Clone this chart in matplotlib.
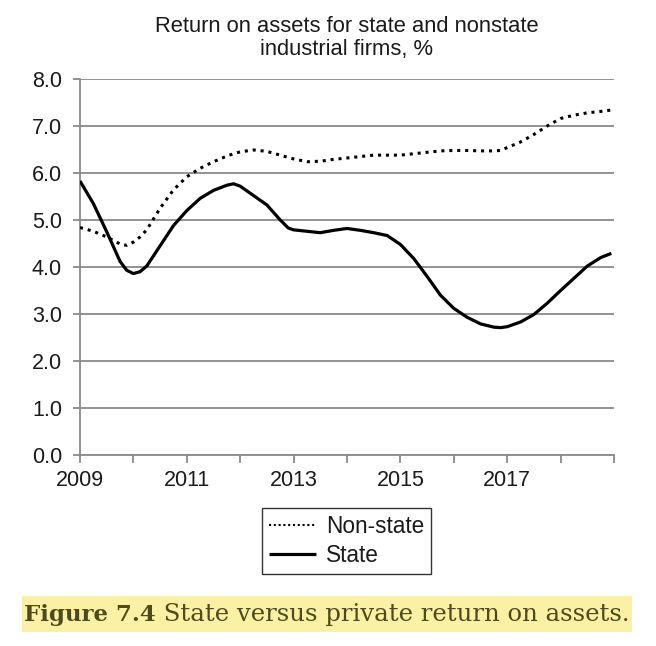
import matplotlib
matplotlib.use("Agg")
import matplotlib.pyplot as plt
from matplotlib.patches import Rectangle

plt.rcParams['font.family'] = ['Liberation Sans', 'DejaVu Sans']

years = [2009.0, 2009.25, 2009.5, 2009.75, 2009.875, 2010.0, 2010.125, 2010.25,
         2010.5, 2010.75, 2011.0, 2011.25, 2011.5, 2011.75, 2011.875, 2012.0,
         2012.25, 2012.5, 2012.75, 2012.9, 2013.0, 2013.25, 2013.5, 2013.75,
         2014.0, 2014.25, 2014.5, 2014.75, 2015.0, 2015.25, 2015.5, 2015.75,
         2016.0, 2016.25, 2016.5, 2016.75, 2016.875, 2017.0, 2017.25, 2017.5,
         2017.75, 2018.0, 2018.25, 2018.5, 2018.75, 2018.95]

state = [5.83, 5.35, 4.75, 4.12, 3.93, 3.86, 3.90, 4.02,
         4.45, 4.88, 5.20, 5.46, 5.63, 5.74, 5.77, 5.72,
         5.52, 5.32, 5.00, 4.83, 4.79, 4.76, 4.73, 4.78,
         4.82, 4.78, 4.73, 4.67, 4.48, 4.18, 3.80, 3.40,
         3.12, 2.93, 2.79, 2.72, 2.71, 2.73, 2.83, 2.99,
         3.23, 3.50, 3.76, 4.02, 4.20, 4.29]

nonstate = [4.84, 4.76, 4.64, 4.49, 4.46, 4.53, 4.64, 4.79,
            5.25, 5.64, 5.92, 6.10, 6.24, 6.36, 6.41, 6.45,
            6.49, 6.46, 6.38, 6.33, 6.30, 6.24, 6.25, 6.29,
            6.32, 6.35, 6.38, 6.38, 6.38, 6.41, 6.44, 6.47,
            6.48, 6.48, 6.47, 6.47, 6.48, 6.54, 6.66, 6.82,
            7.00, 7.16, 7.23, 7.28, 7.31, 7.34]

xticks = list(range(2009, 2020))
xticklabels = ['2009', '', '2011', '', '2013', '', '2015', '', '2017', '', '']
yticks = [0, 1, 2, 3, 4, 5, 6, 7, 8]
yticklabels = ['0.0', '1.0', '2.0', '3.0', '4.0', '5.0', '6.0', '7.0', '8.0']

title = "Return on assets for state and nonstate\nindustrial firms, %"
caption_bold = "Figure 7.4"
caption_rest = " State versus private return on assets."

W, H = 656, 646
fig = plt.figure(figsize=(W / 100, H / 100), dpi=100)
ax = fig.add_axes([80 / W, 1 - 455 / H, (614 - 80) / W, (455 - 79) / H])

grid_c = '#8a8a8a'
txt_c = '#1a1a1a'
ax.plot(years, nonstate, color='black', lw=2.2, linestyle=(0, (1, 1.6)),
        label='Non-state', zorder=3)
ax.plot(years, state, color='black', lw=2.3, label='State', zorder=3,
        solid_joinstyle='round', solid_capstyle='butt')

ax.set_xlim(2009, 2019)
ax.set_ylim(0, 8)
ax.set_xticks(xticks)
ax.set_xticklabels(xticklabels)
ax.set_yticks(yticks)
ax.set_yticklabels(yticklabels)
ax.yaxis.grid(True, color=grid_c, lw=1.3)
ax.set_axisbelow(True)
for s in ['top', 'right']:
    ax.spines[s].set_visible(False)
for s in ['left', 'bottom']:
    ax.spines[s].set_color(grid_c)
    ax.spines[s].set_linewidth(1.3)
ax.tick_params(axis='x', colors=grid_c, width=1.3, length=6,
               labelsize=15.5, labelcolor=txt_c, pad=5)
ax.tick_params(axis='y', colors=grid_c, width=1.3, length=5,
               labelsize=15.5, labelcolor=txt_c, pad=8)

fig.text(347 / W, 1 - 38 / H, title, ha='center', va='center', fontsize=15.8,
         color=txt_c, linespacing=1.12)

leg = fig.legend(loc='center', bbox_to_anchor=(346.5 / W, 1 - 541 / H),
                 fontsize=16.3, frameon=True, fancybox=False, edgecolor='black',
                 handlelength=2.1, handletextpad=0.45, labelspacing=0.3,
                 borderpad=0.3, borderaxespad=0)
leg.get_frame().set_linewidth(1.0)
for t in leg.get_texts():
    t.set_color(txt_c)
hl = leg.get_lines()
hl[0].set_linewidth(1.5)
hl[0].set_linestyle((0, (1, 1.3)))

# caption with highlight
fig.patches.append(Rectangle((22 / W, 1 - 632 / H), (632 - 22) / W, (632 - 596) / H,
                             transform=fig.transFigure, facecolor='#fbf1a4',
                             edgecolor='none', zorder=0))
cap_c = '#4f4a1c'
t1 = fig.text(24 / W, 1 - 615 / H, caption_bold, ha='left', va='center',
              fontsize=16.5, fontweight='bold', family='DejaVu Serif', color=cap_c)
fig.canvas.draw()
bb = t1.get_window_extent()
fig.text(bb.x1 / W, 1 - 615 / H, caption_rest, ha='left', va='center',
         fontsize=17.6, family='DejaVu Serif', color=cap_c)

fig.savefig('out.png', dpi=100)
